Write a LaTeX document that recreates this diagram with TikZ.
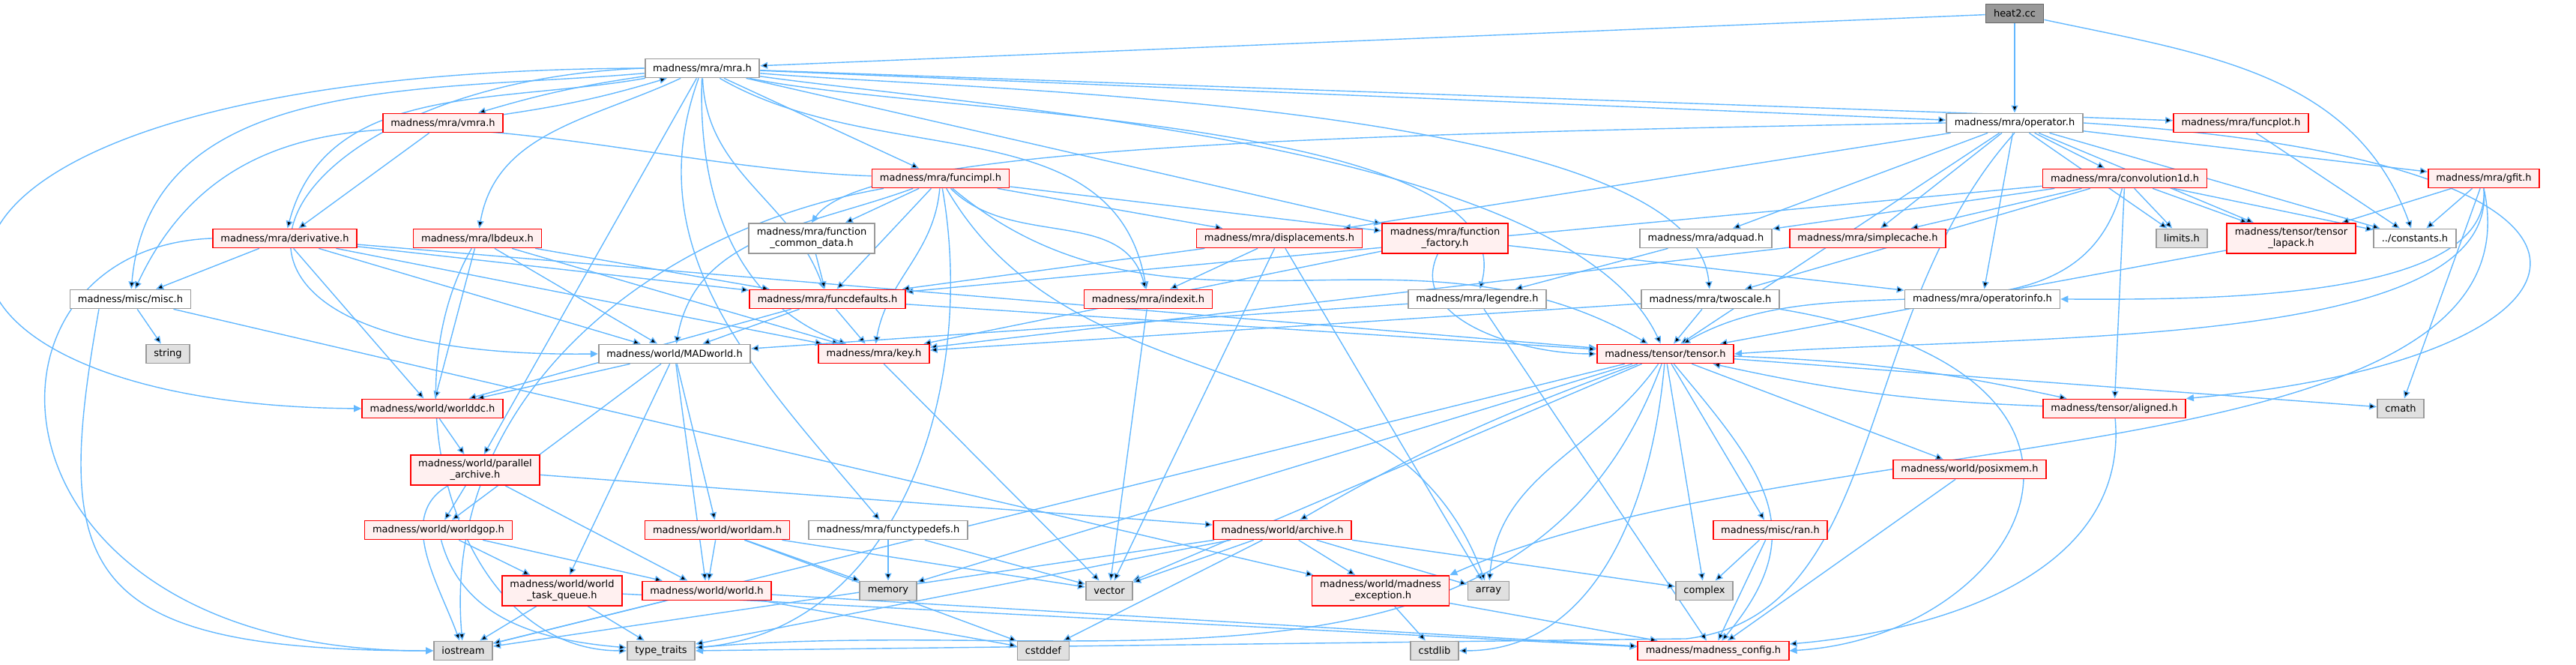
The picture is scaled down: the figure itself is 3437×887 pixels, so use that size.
\documentclass[tikz,border=0pt]{standalone}
\usepackage{fontspec}
\setmainfont{DejaVu Sans}
\usetikzlibrary{arrows.meta,backgrounds}
\definecolor{linkblue}{HTML}{63B8FF}
\definecolor{hdrfill}{HTML}{FFF0F0}
\definecolor{sysfill}{HTML}{E0E0E0}
\definecolor{hdrframe}{HTML}{999999}
\definecolor{rootframe}{HTML}{666666}
\tikzset{
  hdr/.style={draw=hdrframe, fill=white, line width=0.18pt, inner xsep=1.05pt,
    inner ysep=0.1pt, minimum height=2.5pt, align=center,
    font=\fontsize{1.3}{1.5}\selectfont},
  redhdr/.style={hdr, draw=red, fill=hdrfill},
  syshdr/.style={hdr, fill=sysfill},
  roothdr/.style={hdr, draw=rootframe, fill=hdrframe},
  tall/.style={minimum height=4pt},
  dep/.style={draw=linkblue, line width=0.14pt, -{Triangle[length=1pt,width=0.9pt]}},
}
\begin{document}
\begin{tikzpicture}[x=0.1pt,y=-0.1pt]
\useasboundingbox (0,0) rectangle (3437,887);
% row 0 to 3
\node[roothdr] (heat) at (2688,18) {heat2.cc};
\node[hdr] (mra) at (937,91) {madness/mra/mra.h};
\node[redhdr] (vmra) at (591,164) {madness/mra/vmra.h};
\node[hdr] (opr) at (2688,164) {madness/mra/operator.h};
\node[redhdr] (fplot) at (2990,164) {madness/mra/funcplot.h};
\node[redhdr] (fimpl) at (1255,238) {madness/mra/funcimpl.h};
\node[redhdr] (conv) at (2835,238) {madness/mra/convolution1d.h};
\node[redhdr] (gfit) at (3314,238) {madness/mra/gfit.h};
% row 4
\node[redhdr] (deriv) at (380,318) {madness/mra/derivative.h};
\node[redhdr] (lbdeux) at (637,318) {madness/mra/lbdeux.h};
\node[hdr,tall] (fcommon) at (1083,318) {madness/mra/function\\\_common\_data.h};
\node[redhdr] (displ) at (1707,318) {madness/mra/displacements.h};
\node[redhdr,tall] (ffact) at (1928,318) {madness/mra/function\\\_factory.h};
\node[hdr] (adquad) at (2276,318) {madness/mra/adquad.h};
\node[redhdr] (scache) at (2492,318) {madness/mra/simplecache.h};
\node[syshdr] (limits) at (2911,318) {limits.h};
\node[redhdr,tall] (tlapack) at (3057,318) {madness/tensor/tensor\\\_lapack.h};
\node[hdr] (consts) at (3222,318) {../constants.h};
% row 5
\node[hdr] (misc) at (174,399) {madness/misc/misc.h};
\node[redhdr] (fdefs) at (1104,399) {madness/mra/funcdefaults.h};
\node[redhdr] (indexit) at (1532,399) {madness/mra/indexit.h};
\node[hdr] (legendre) at (1971,399) {madness/mra/legendre.h};
\node[hdr] (twoscale) at (2282,399) {madness/mra/twoscale.h};
\node[hdr] (opinfo) at (2645,399) {madness/mra/operatorinfo.h};
% row 6 to 8
\node[syshdr] (string) at (224,472) {string};
\node[hdr] (madworld) at (900,472) {madness/world/MADworld.h};
\node[redhdr] (key) at (1166,472) {madness/mra/key.h};
\node[redhdr] (tensor) at (2222,472) {madness/tensor/tensor.h};
\node[redhdr] (worlddc) at (577,545) {madness/world/worlddc.h};
\node[redhdr] (aligned) at (2821,545) {madness/tensor/aligned.h};
\node[syshdr] (cmath) at (3203,545) {cmath};
\node[redhdr,tall] (parch) at (634,627) {madness/world/parallel\\\_archive.h};
\node[redhdr] (posix) at (2628,626) {madness/world/posixmem.h};
% row 9 to 11
\node[redhdr] (wgop) at (585,707) {madness/world/worldgop.h};
\node[redhdr] (wam) at (957,707) {madness/world/worldam.h};
\node[hdr] (ftypedefs) at (1185,707) {madness/mra/functypedefs.h};
\node[redhdr] (archive) at (1711,707) {madness/world/archive.h};
\node[redhdr] (ran) at (2362,707) {madness/misc/ran.h};
\node[redhdr,tall] (wtq) at (750,788) {madness/world/world\\\_task\_queue.h};
\node[redhdr] (world) at (943,788) {madness/world/world.h};
\node[syshdr] (memory) at (1185,788) {memory};
\node[syshdr] (vector) at (1480,788) {vector};
\node[redhdr,tall] (mexc) at (1842,788) {madness/world/madness\\\_exception.h};
\node[syshdr] (array) at (1986,788) {array};
\node[syshdr] (complex) at (2274,788) {complex};
\node[syshdr] (iostream) at (618,868) {iostream};
\node[syshdr] (ttraits) at (882,868) {type\_traits};
\node[syshdr] (cstddef) at (1392,868) {cstddef};
\node[syshdr] (cstdlib) at (1914,868) {cstdlib};
\node[redhdr] (mconfig) at (2286,868) {madness/madness\_config.h};
\begin{pgfonlayer}{background}
% top level includes
\path[dep] (heat) edge (mra) edge (opr) edge[out=-12,in=110] (consts);
\path[dep] (mra) edge[out=185,in=85] (misc) edge[out=190,in=75] (deriv)
  edge[bend right=4] (vmra) edge[out=205,in=80] (lbdeux) edge (parch)
  edge[out=250,in=130] (ftypedefs) edge[out=268,in=160] (key)
  edge[out=272,in=110] (fdefs) edge (fimpl) edge[out=-30,in=100] (indexit)
  edge (opr) edge (fplot) edge[out=-8,in=115,looseness=0.6] (tensor)
  edge[out=-5,in=95,looseness=0.5] (twoscale)
  edge[out=-12,in=75,looseness=0.6] (legendre) edge (ffact);
\draw[dep] (mra.west) .. controls (-250,95) and (-220,540) .. (worlddc.west);
\draw[dep] (mra.west) .. controls (350,110) and (150,480) .. (madworld.west);
\path[dep] (vmra) edge[bend right=4] (mra) edge (deriv);
% operator.h and its neighbours
\draw[dep] (opr.west) .. controls (1700,180) and (1150,200) .. (fcommon.north);
\path[dep] (opr) edge (displ) edge (adquad)
  edge (scache) edge (opinfo) edge (conv) edge (gfit) edge (consts)
  edge (tlapack) edge (limits) edge (tensor);
\draw[dep] (opr.east) .. controls (3600,215) and (3500,480) .. (aligned.north east);
\draw[dep] (opr.south) .. controls (2470,420) and (2520,820) .. (2250,852) -- (ttraits.east);
\path[dep] (conv) edge (fdefs) edge (adquad) edge (scache) edge (twoscale)
  edge[out=255,in=30] (tensor) edge (aligned) edge (limits) edge (tlapack) edge (consts);
\path[dep] (gfit) edge (tlapack) edge (consts) edge (cmath);
\draw[dep] (gfit.south) .. controls (3325,400) and (2950,400) .. (opinfo.east);
\draw[dep] (gfit.south) .. controls (3335,470) and (2700,445) .. (tensor.east);
\draw[dep] (gfit.south) .. controls (3400,640) and (2400,560) .. (mexc.north east);
\path[dep] (fplot) edge (consts);
\path[dep] (tlapack) edge (tensor);
% mra headers
\path[dep] (deriv) edge (misc) edge (worlddc) edge (madworld) edge (fdefs)
  edge (key) edge (tensor);
\draw[dep] (deriv.west) .. controls (-60,330) and (-40,870) .. (iostream.west);
\path[dep] (lbdeux) edge (worlddc) edge[out=240,in=180] (ttraits) edge (fdefs)
  edge (key) edge (madworld);
\path[dep] (fcommon) edge (fdefs);
\path[dep] (displ) edge (fdefs) edge (indexit) edge (vector) edge (array);
\path[dep] (fimpl) edge[out=178,in=65] (misc) edge[out=190,in=95] (iostream)
  edge[out=200,in=80] (madworld) edge (fcommon) edge (fdefs)
  edge[out=265,in=80] (key) edge[out=-80,in=5] (ttraits)
  edge[out=-60,in=110] (array) edge[out=-40,in=150] (tensor)
  edge[out=-45,in=105] (indexit) edge (displ) edge (ffact);
\path[dep] (ffact) edge (key) edge[out=245,in=180] (tensor) edge (opinfo);
\path[dep] (adquad) edge (legendre);
\path[dep] (scache) edge (key);
\path[dep] (misc) edge (string) edge (mexc);
\draw[dep] ([xshift=-4.2pt]misc.south) .. controls (70,760) and (100,868) .. (iostream.west);
\path[dep] (fdefs) edge (madworld) edge (key) edge (tensor) edge (worlddc);
\path[dep] (indexit) edge (vector);
\path[dep] (legendre) edge (mconfig) edge (madworld);
\path[dep] (twoscale) edge (tensor) edge (key);
\draw[dep] (twoscale.south east) .. controls (2900,500) and (2700,850) .. (mconfig.east);
% world and tensor headers
\path[dep] (madworld) edge (wgop) edge (worlddc) edge (wtq) edge (world) edge (wam);
\path[dep] (key) edge (vector);
\path[dep] (tensor) edge[out=200,in=30] (archive) edge[out=235,in=85] (array)
  edge[out=265,in=0] (cstdlib) edge (complex) edge (ran)
  edge[out=-50,in=50,looseness=1.3] (mconfig) edge (posix)
  edge[bend left=5] (aligned) edge (cmath) edge (memory) edge (vector)
  edge (iostream) edge[out=250,in=5] (ttraits);
\path[dep] (aligned) edge[bend left=5] (tensor) edge[out=-85,in=5] (mconfig);
\path[dep] (posix) edge (mconfig);
\path[dep] (worlddc) edge (parch);
\path[dep] (parch) edge[out=210,in=110] (iostream) edge (wgop) edge (world) edge (archive);
\path[dep] (wgop) edge[out=-75,in=175] (ttraits) edge (wtq) edge (world);
\path[dep] (wtq) edge (iostream) edge (ttraits) edge (mconfig);
\path[dep] (wam) edge (world) edge (memory) edge (vector) edge (cstddef);
\path[dep] (ftypedefs) edge (memory) edge (vector);
\path[dep] (world) edge (iostream) edge (cstddef) edge (mconfig);
\path[dep] (archive) edge (vector) edge (iostream) edge (ttraits) edge (cstddef)
  edge (mexc) edge (array) edge (complex);
\path[dep] (mexc) edge (cstdlib) edge (mconfig);
\path[dep] (ran) edge (complex) edge (mconfig);
\end{pgfonlayer}
\end{tikzpicture}
\end{document}
